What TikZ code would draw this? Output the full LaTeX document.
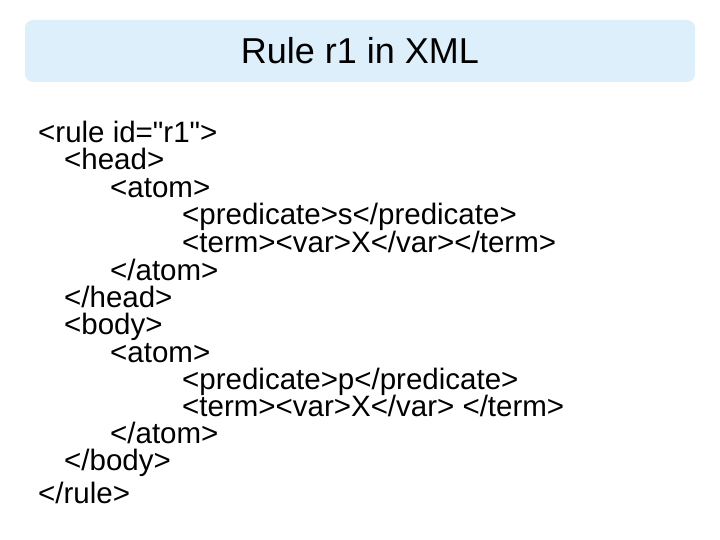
\documentclass[tikz,border=0pt]{standalone}
\usepackage{fontspec}
\setmainfont{Liberation Sans}
\definecolor{titlefill}{HTML}{DDEFFB}
\newcommand{\qdbl}{\XeTeXglyph\XeTeXglyphindex "quotedbl" }
\begin{document}
\begin{tikzpicture}[x=1pt,y=1pt,
  code/.style={anchor=base west,inner sep=0pt,font=\fontsize{29.5}{29.5}\selectfont},
  titlebox/.style={fill=titlefill,rounded corners=8pt,draw=none}]
\useasboundingbox (0,0) rectangle (720,-540);
\fill[white] (0,0) rectangle (720,-540);
\node[titlebox,minimum width=670,minimum height=62] (title) at (360,-51) {};
\node[font=\fontsize{36}{36}\selectfont] (tt) at (360,-51) {Rule r1 in XML};
\node[code] (l1) at (38,-143) {<rule id=\qdbl r1\qdbl>};
\node[code] (l2) at (64,-170) {<head>};
\node[code] (l3) at (110,-197) {<atom>};
\node[code] (l4) at (182,-225) {<predicate>s</predicate>};
\node[code] (l5) at (182,-252) {<term><var>X</var></term>};
\node[code] (l6) at (110,-280) {</atom>};
\node[code] (l7) at (64,-307) {</head>};
\node[code] (l8) at (64,-334) {<body>};
\node[code] (l9) at (110,-362) {<atom>};
\node[code] (l10) at (182,-389) {<predicate>p</predicate>};
\node[code] (l11) at (182,-416) {<term><var>X</var> </term>};
\node[code] (l12) at (110,-443) {</atom>};
\node[code] (l13) at (64,-470) {</body>};
\node[code] (l14) at (38,-503) {</rule>};
\end{tikzpicture}
\end{document}
